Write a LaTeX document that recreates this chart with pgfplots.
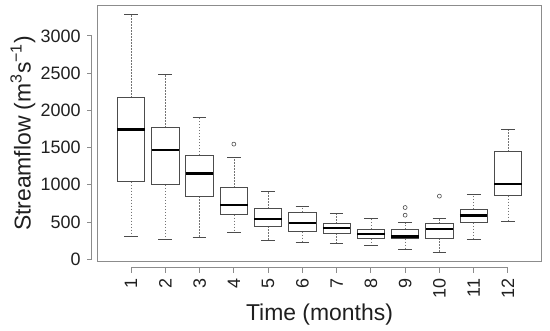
\documentclass[border=0pt]{standalone}
\usepackage{fontspec}
\setmainfont{Liberation Sans}
\usepackage{pgfplots}
\pgfplotsset{compat=1.18}
\usepgfplotslibrary{statistics}
\definecolor{framecol}{gray}{0.55}
\definecolor{boxcol}{gray}{0.30}
\definecolor{whiskcol}{gray}{0.45}
\definecolor{textcol}{gray}{0.12}
\begin{document}
\begin{tikzpicture}
\useasboundingbox (-97.5bp,-69.3bp) rectangle (452.5bp,261.7bp);
\begin{axis}[
  scale only axis, width=444bp, height=256.4bp,
  xmin=0.02, xmax=12.98, ymin=-34, ymax=3411,
  xtick={1,...,12}, ytick={0,500,...,3000},
  major tick length=0pt,
  axis line style={draw=framecol, line width=0.9bp},
  /pgf/number format/assume math mode=true,
  /pgf/number format/1000 sep={},
  tick label style={font=\fontsize{18}{18}\selectfont, text=textcol},
  yticklabel style={anchor=east, inner sep=0pt},
  yticklabel shift=16.8bp,
  xticklabel style={rotate=90, anchor=east, inner sep=0pt},
  xticklabel shift=16.6bp,
  xlabel={Time (months)},
  ylabel={Streamflow (m\textsuperscript{3}s\textsuperscript{−1})},
  label style={font=\fontsize{23}{23}\selectfont, text=textcol},
  xlabel style={at={(axis description cs:0.5,-0.2274)}, anchor=base},
  ylabel style={at={(axis description cs:-0.1678,0.5)}, anchor=center},
  clip=false,
  boxplot/draw direction=y,
  boxplot/box extend=0.8,
  boxplot/whisker extend=0.4,
  boxplot/every box/.style={draw=boxcol, line width=0.8bp, fill=white},
  boxplot/every median/.style={draw=black, line width=2.2bp},
  boxplot/draw/lower whisker/.code={
    \draw[whiskcol, line width=0.6bp, dash pattern=on 1.6bp off 1.4bp]
      (boxplot box cs:\pgfplotsboxplotvalue{lower quartile},0.5) --
      (boxplot box cs:\pgfplotsboxplotvalue{lower whisker},0.5);
    \draw[boxcol, line width=0.8bp]
      (boxplot whisker cs:\pgfplotsboxplotvalue{lower whisker},0) --
      (boxplot whisker cs:\pgfplotsboxplotvalue{lower whisker},1);
  },
  boxplot/draw/upper whisker/.code={
    \draw[whiskcol, line width=0.6bp, dash pattern=on 1.6bp off 1.4bp]
      (boxplot box cs:\pgfplotsboxplotvalue{upper quartile},0.5) --
      (boxplot box cs:\pgfplotsboxplotvalue{upper whisker},0.5);
    \draw[boxcol, line width=0.8bp]
      (boxplot whisker cs:\pgfplotsboxplotvalue{upper whisker},0) --
      (boxplot whisker cs:\pgfplotsboxplotvalue{upper whisker},1);
  },
  mybox/.style={draw=boxcol, mark=o, mark size=2bp, mark options={draw=boxcol, line width=0.6bp}},
]
\addplot[mybox, boxplot prepared={draw position=1, lower whisker=300, lower quartile=1043, median=1742, upper quartile=2172, upper whisker=3283}] coordinates {};
\addplot[mybox, boxplot prepared={draw position=2, lower whisker=269, lower quartile=999, median=1469, upper quartile=1769, upper whisker=2481}] coordinates {};
\addplot[mybox, boxplot prepared={draw position=3, lower whisker=296, lower quartile=847, median=1150, upper quartile=1398, upper whisker=1903}] coordinates {};
\addplot[mybox, boxplot prepared={draw position=4, lower whisker=363, lower quartile=599, median=730, upper quartile=958, upper whisker=1361}] table[row sep=\\, y index=0] {data\\ 1546\\};
\addplot[mybox, boxplot prepared={draw position=5, lower whisker=250, lower quartile=443, median=542, upper quartile=676, upper whisker=909}] coordinates {};
\addplot[mybox, boxplot prepared={draw position=6, lower whisker=223, lower quartile=371, median=488, upper quartile=632, upper whisker=712}] coordinates {};
\addplot[mybox, boxplot prepared={draw position=7, lower whisker=210, lower quartile=349, median=421, upper quartile=478, upper whisker=613}] coordinates {};
\addplot[mybox, boxplot prepared={draw position=8, lower whisker=179, lower quartile=273, median=340, upper quartile=403, upper whisker=542}] coordinates {};
\addplot[mybox, boxplot prepared={draw position=9, lower whisker=125, lower quartile=277, median=304, upper quartile=403, upper whisker=488}] table[row sep=\\, y index=0] {data\\ 591\\ 694\\};
\addplot[mybox, boxplot prepared={draw position=10, lower whisker=94, lower quartile=282, median=407, upper quartile=474, upper whisker=542}] table[row sep=\\, y index=0] {data\\ 847\\};
\addplot[mybox, boxplot prepared={draw position=11, lower whisker=269, lower quartile=488, median=586, upper quartile=672, upper whisker=864}] coordinates {};
\addplot[mybox, boxplot prepared={draw position=12, lower whisker=511, lower quartile=855, median=1012, upper quartile=1442, upper whisker=1742}] coordinates {};
% separated R-style axis lines and tick marks
\draw[framecol, line width=0.9bp] ([xshift=-5.8bp]axis cs:0.02,0) -- ([xshift=-5.8bp]axis cs:0.02,3000);
\pgfplotsinvokeforeach{0,500,1000,1500,2000,2500,3000}{
  \draw[framecol, line width=0.9bp] ([xshift=-5.8bp]axis cs:0.02,#1) -- ([xshift=-10.8bp]axis cs:0.02,#1);
}
\draw[framecol, line width=0.9bp] ([yshift=-6bp]axis cs:1,-34) -- ([yshift=-6bp]axis cs:12,-34);
\pgfplotsinvokeforeach{1,...,12}{
  \draw[framecol, line width=0.9bp] ([yshift=-6bp]axis cs:#1,-34) -- ([yshift=-11bp]axis cs:#1,-34);
}
\end{axis}
\end{tikzpicture}
\end{document}
